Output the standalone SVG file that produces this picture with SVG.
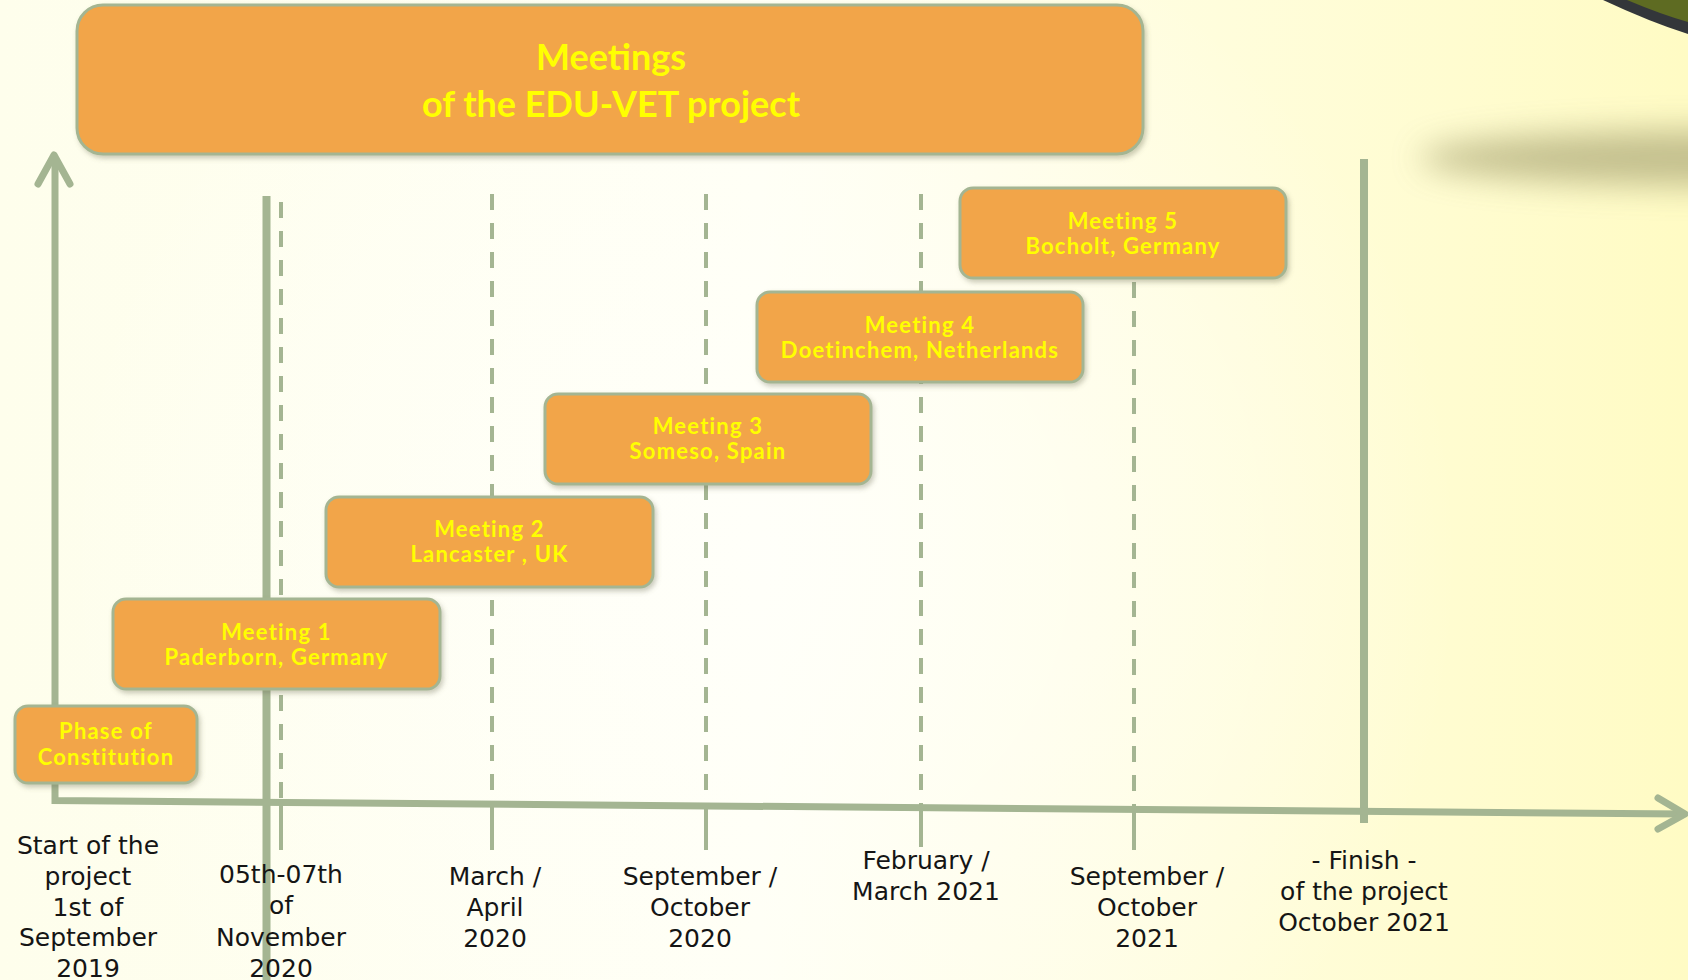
<svg xmlns="http://www.w3.org/2000/svg" width="1688" height="980" viewBox="0 0 1688 980">
<defs>
  <linearGradient id="bg" x1="0" y1="0" x2="1" y2="0">
    <stop offset="0" stop-color="#FEFEEC"/>
    <stop offset="0.45" stop-color="#FFFFF3"/>
    <stop offset="1" stop-color="#FFFBC4"/>
  </linearGradient>
  <radialGradient id="glow" cx="760" cy="560" r="700" gradientUnits="userSpaceOnUse">
    <stop offset="0" stop-color="#FFFFFA" stop-opacity="0.9"/>
    <stop offset="1" stop-color="#FFFFFA" stop-opacity="0"/>
  </radialGradient>
  <filter id="blur" x="-50%" y="-200%" width="200%" height="500%">
    <feGaussianBlur stdDeviation="16"/>
  </filter>
  <filter id="shadow" x="-10%" y="-20%" width="120%" height="150%">
    <feDropShadow dx="2" dy="3" stdDeviation="2.5" flood-color="#6b6b50" flood-opacity="0.35"/>
  </filter>
  <style>
    .box { fill: #F2A548; stroke: #A4B592; stroke-width: 3; filter: url(#shadow); }
    .btxt { font-family: Lato, "Liberation Sans", sans-serif; font-weight: bold; font-size: 22px; letter-spacing: 1.2px; fill: #FFFF00; text-anchor: middle; }
    .ttxt { font-family: Lato, "Liberation Sans", sans-serif; font-weight: bold; font-size: 36px; fill: #FFFF00; text-anchor: middle; }
    .lbl { font-family: "DejaVu Sans", "Liberation Sans", sans-serif; font-size: 25px; fill: #151515; text-anchor: middle; }
    .axis { stroke: #A4B592; stroke-width: 7; fill: none; }
    .thick { stroke: #A4B592; stroke-width: 8; fill: none; }
    .dash { stroke: #A4B592; stroke-width: 4; stroke-dasharray: 16 13; fill: none; }
    .tick { stroke: #A4B592; stroke-width: 4; fill: none; }
    .head { stroke: #A4B592; stroke-width: 7; fill: none; stroke-linecap: round; stroke-linejoin: round; }
  </style>
</defs>

<!-- background -->
<rect x="0" y="0" width="1688" height="980" fill="url(#bg)"/>
<rect x="0" y="0" width="1688" height="980" fill="url(#glow)"/>
<ellipse cx="1730" cy="158" rx="310" ry="28" fill="#B9B584" opacity="0.85" filter="url(#blur)"/>
<path d="M1603,0 Q1650,22 1688,34 L1688,0 Z" fill="#33363A"/>
<path d="M1627,0 Q1660,14 1688,22 L1688,0 Z" fill="#5E6B22"/>

<!-- connectors / timeline -->
<g id="connectors">
  <line class="thick" x1="266.5" y1="196" x2="266.5" y2="980"/>
  <line class="dash" x1="281" y1="202" x2="281" y2="801"/>
  <line class="tick" x1="281" y1="801" x2="281" y2="850"/>
  <line class="dash" x1="492" y1="194" x2="492" y2="802"/>
  <line class="tick" x1="492" y1="802" x2="492" y2="850"/>
  <line class="dash" x1="706" y1="194" x2="706" y2="804"/>
  <line class="tick" x1="706" y1="804" x2="706" y2="850"/>
  <line class="dash" x1="921" y1="194" x2="921" y2="806"/>
  <line class="tick" x1="921" y1="806" x2="921" y2="847"/>
  <line class="dash" x1="1134" y1="282" x2="1134" y2="808"/>
  <line class="tick" x1="1134" y1="808" x2="1134" y2="850"/>
  <line class="thick" x1="1364" y1="159" x2="1364" y2="823"/>
  <polyline class="axis" points="55,158 55,800.5 1684,814"/>
  <polyline class="head" points="38,184 54,155 70,184"/>
  <polyline class="head" points="1658,798 1685,814 1658,829"/>
</g>

<!-- title -->
<g id="title">
  <rect class="box" x="77" y="5" width="1066" height="149" rx="26"/>
  <text class="ttxt" x="611" y="70">Meetings</text>
  <text class="ttxt" x="611" y="117">of the EDU-VET project</text>
</g>

<g id="phase">
  <rect class="box" x="15" y="706" width="182" height="77" rx="13"/>
  <text class="btxt" x="106" y="739">Phase of</text>
  <text class="btxt" x="106" y="765">Constitution</text>
</g>
<g id="meeting1">
  <rect class="box" x="113" y="599" width="327" height="90" rx="13"/>
  <text class="btxt" x="276.5" y="640">Meeting 1</text>
  <text class="btxt" x="276.5" y="665">Paderborn, Germany</text>
</g>
<g id="meeting2">
  <rect class="box" x="326" y="497" width="327" height="90" rx="13"/>
  <text class="btxt" x="489.5" y="537">Meeting 2</text>
  <text class="btxt" x="489.5" y="562">Lancaster , UK</text>
</g>
<g id="meeting3">
  <rect class="box" x="545" y="394" width="326" height="90" rx="13"/>
  <text class="btxt" x="708" y="434">Meeting 3</text>
  <text class="btxt" x="708" y="459">Someso, Spain</text>
</g>
<g id="meeting4">
  <rect class="box" x="757" y="292" width="326" height="90" rx="13"/>
  <text class="btxt" x="920" y="333">Meeting 4</text>
  <text class="btxt" x="920" y="358">Doetinchem, Netherlands</text>
</g>
<g id="meeting5">
  <rect class="box" x="960" y="188" width="326" height="90" rx="13"/>
  <text class="btxt" x="1123" y="229">Meeting 5</text>
  <text class="btxt" x="1123" y="254">Bocholt, Germany</text>
</g>

<!-- labels -->
<g id="label-start">
  <text class="lbl" x="88" y="854">Start of the</text>
  <text class="lbl" x="88" y="885">project</text>
  <text class="lbl" x="88" y="916">1st of</text>
  <text class="lbl" x="88" y="946">September</text>
  <text class="lbl" x="88" y="977">2019</text>
</g>
<g id="label-nov2020">
  <text class="lbl" x="281" y="883">05th-07th</text>
  <text class="lbl" x="281" y="914">of</text>
  <text class="lbl" x="281" y="946">November</text>
  <text class="lbl" x="281" y="977">2020</text>
</g>
<g id="label-mar2020">
  <text class="lbl" x="495" y="885">March /</text>
  <text class="lbl" x="495" y="916">April</text>
  <text class="lbl" x="495" y="947">2020</text>
</g>
<g id="label-sep2020">
  <text class="lbl" x="700" y="885">September /</text>
  <text class="lbl" x="700" y="916">October</text>
  <text class="lbl" x="700" y="947">2020</text>
</g>
<g id="label-feb2021">
  <text class="lbl" x="926" y="869">February /</text>
  <text class="lbl" x="926" y="900">March 2021</text>
</g>
<g id="label-sep2021">
  <text class="lbl" x="1147" y="885">September /</text>
  <text class="lbl" x="1147" y="916">October</text>
  <text class="lbl" x="1147" y="947">2021</text>
</g>
<g id="label-finish">
  <text class="lbl" x="1364" y="869">- Finish -</text>
  <text class="lbl" x="1364" y="900">of the project</text>
  <text class="lbl" x="1364" y="931">October 2021</text>
</g>
</svg>
